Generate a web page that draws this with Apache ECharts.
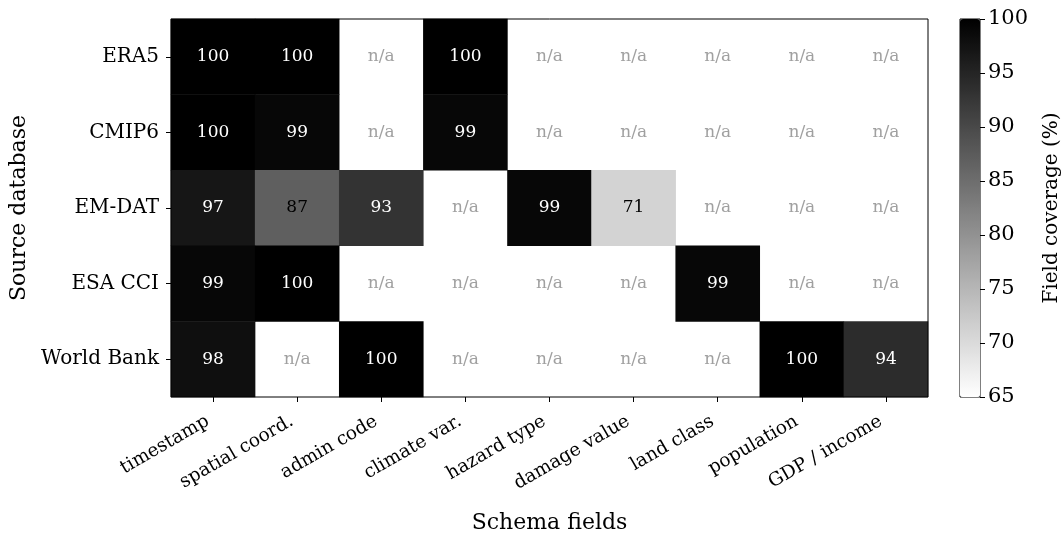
<!DOCTYPE html>
<html><head><meta charset="utf-8">
<script src="https://cdn.jsdelivr.net/npm/echarts@6/dist/echarts.min.js"></script>
<style>html,body{margin:0;padding:0;background:#fff}#c{width:1063px;height:533px}</style>
</head><body><div id="c"></div>
<script>
const fields = ['timestamp','spatial coord.','admin code','climate var.','hazard type','damage value','land class','population','GDP / income'];
const sources = ['ERA5','CMIP6','EM-DAT','ESA CCI','World Bank'];
const era5      = [100, 100, null, 100, null, null, null, null, null];
const cmip6     = [100, 99, null, 99, null, null, null, null, null];
const emdat     = [97, 87, 93, null, 99, 71, null, null, null];
const esacci    = [99, 100, null, null, null, null, 99, null, null];
const worldbank = [98, null, 100, null, null, null, null, 100, 94];
const rows = [era5, cmip6, emdat, esacci, worldbank];
const cbTicks = [65, 70, 75, 80, 85, 90, 95, 100];

const FONT = 'DejaVu Serif';
const heat = [], na = [];
rows.forEach((r, yi) => r.forEach((v, xi) => {
  if (v === null) na.push([xi, sources[yi]]);
  else heat.push({value: [xi, sources[yi], v], label: {color: v > 90 ? '#ffffff' : '#000000'}});
}));

const chart = echarts.init(document.getElementById('c'), null, {renderer: 'canvas'});
chart.setOption({
  animation: false,
  backgroundColor: '#ffffff',
  textStyle: {fontFamily: FONT},
  grid: [
    {left: 171, top: 19, width: 757, height: 378, show: true, borderColor: '#000', borderWidth: 1, backgroundColor: 'transparent', z: 10, containLabel: false, outerBoundsMode: 'none'},
    {left: 960, top: 19, width: 20, height: 378, show: true, borderColor: '#000', borderWidth: 1, backgroundColor: 'transparent', containLabel: false, outerBoundsMode: 'none'}
  ],
  xAxis: [
    {type: 'category', gridIndex: 0, data: fields, position: 'bottom',
     axisLine: {show: false}, axisTick: {show: true, alignWithLabel: true, length: 5, lineStyle: {color: '#000'}},
     axisLabel: {rotate: 30, fontSize: 18.5, color: '#000', fontFamily: FONT, margin: 20, interval: 0, padding: [0, 6, 0, 0]},
     splitLine: {show: false},
     name: 'Schema fields', nameLocation: 'middle', nameGap: 115,
     nameTextStyle: {fontSize: 22, color: '#000', fontFamily: FONT}},
    {type: 'category', gridIndex: 1, data: [''], show: false}
  ],
  yAxis: [
    {type: 'category', gridIndex: 0, data: sources, inverse: true,
     axisLine: {show: false}, axisTick: {show: true, alignWithLabel: true, length: 5, lineStyle: {color: '#000'}},
     axisLabel: {fontSize: 20, color: '#000', fontFamily: FONT, margin: 12},
     splitLine: {show: false},
     name: 'Source database', nameLocation: 'middle', nameGap: 137, nameRotate: 90,
     nameTextStyle: {fontSize: 22, color: '#000', fontFamily: FONT}},
    {type: 'value', gridIndex: 1, position: 'right', min: 65, max: 100, interval: 5,
     axisLine: {show: false}, axisTick: {show: true, length: 5, lineStyle: {color: '#000'}},
     axisLabel: {fontSize: 21, color: '#000', fontFamily: FONT, margin: 8},
     splitLine: {show: false},
     name: 'Field coverage (%)', nameLocation: 'middle', nameGap: 62, nameRotate: 90,
     nameTextStyle: {fontSize: 20, color: '#000', fontFamily: FONT}}
  ],
  visualMap: {
    type: 'continuous', min: 65, max: 100, seriesIndex: 0, dimension: 2,
    calculable: false, realtime: false, orient: 'vertical',
    left: 960, top: 19, itemWidth: 20, itemHeight: 378, padding: 0,
    text: ['', ''], showLabel: false, hoverLink: false,
    inRange: {color: ['#ffffff', '#000000']}
  },
  series: [
    {type: 'heatmap', xAxisIndex: 0, yAxisIndex: 0, data: heat,
     itemStyle: {borderWidth: 0},
     label: {show: true, fontSize: 17, fontFamily: FONT, formatter: p => String(p.value[2])},
     emphasis: {disabled: true}},
    {type: 'scatter', xAxisIndex: 0, yAxisIndex: 0, data: na, symbolSize: 0,
     label: {show: true, position: 'inside', formatter: 'n/a', color: '#888888', fontSize: 17, fontFamily: FONT},
     emphasis: {disabled: true}},
    {type: 'scatter', xAxisIndex: 1, yAxisIndex: 1, data: [], silent: true}
  ]
});
</script></body></html>
